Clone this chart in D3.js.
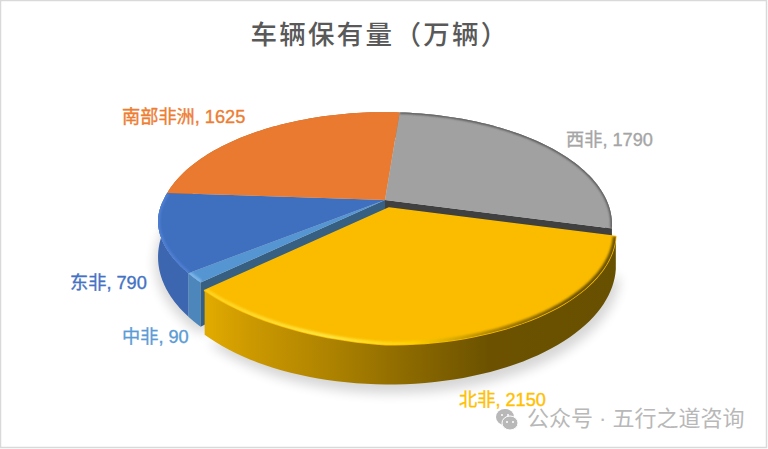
<!DOCTYPE html>
<html lang="zh">
<head>
  <meta charset="UTF-8">
  <title>车辆保有量（万辆）</title>
  <script src="https://d3js.org/d3.v7.min.js"></script>
  <style>
    html, body { margin: 0; padding: 0; background: #fff; }
    svg { display: block; }
    text { font-family: "Liberation Sans", "Noto Sans CJK SC", sans-serif; }
  </style>
</head>
<body>
  <svg id="chart" width="768" height="449"></svg>

<script>
  // data, clockwise from the exploded slice
  const regions = ["北非", "中非", "东非", "南部非洲", "西非"];
  const vehicles = [2150, 90, 790, 1625, 1790];
  const chartTitle = "车辆保有量（万辆）";

  const topColors = ["#fbbc00", "#5596d2", "#3f6fbf", "#e97a30", "#a1a1a1"];
  const wallColors = ["url(#wallYellow)", "#4c86ba", "#3c66b0", "#b85f22", "#6e6e6e"];
  const labelColors = ["#ffc000", "#5b9bd5", "#4472c4", "#ed7d31", "#a5a5a5"];
  const labelX = [459, 122, 70, 122, 566];
  const labelY = [406, 343, 289, 123, 146];

  const svg = d3.select("#chart");
  const defs = svg.append("defs");

  // pie geometry
  const cx = 385, cy = 200, rx = 221.5, ry = 107, persp = 0.218, depth = 31, tilt = 15;
  const startDeg = 104.6;
  const explode = { dx: 4, dy: 8 };

  const arcs = d3.pie().sort(null)
    .startAngle(startDeg * Math.PI / 180)
    .endAngle((startDeg + 360) * Math.PI / 180)(vehicles);

  // disc angle -> screen, with a bit of perspective so the front looks bigger
  function project(a, r, drop) {
    const u = Math.sin(a) * r, v = -Math.cos(a) * r;
    const s = 1 / (1 - persp * v);
    // front left of the top face sits a little higher in the reference, its wall does not
    const lift = drop > 0 ? 0 : tilt * Math.min(u, 0) * Math.max(v, 0);
    return [cx + rx * u * s, cy + ry * v * s + drop * s + lift];
  }

  const line = d3.line();

  function rim(a0, a1, drop) {
    return d3.range(0, 61).map(i => project(a0 + (a1 - a0) * i / 60, 1, drop));
  }

  function topPath(d) {
    return line([[cx, cy]].concat(rim(d.startAngle, d.endAngle, 0))) + "Z";
  }

  function wallPath(d) {
    return line(rim(d.startAngle, d.endAngle, 0).concat(rim(d.startAngle, d.endAngle, depth).reverse())) + "Z";
  }

  function cutPath(a) {
    const t = project(a, 1, 0), b = project(a, 1, depth);
    return line([[cx, cy], t, b, [cx, cy + depth]]) + "Z";
  }

  // gradients and filters
  const xLeft = project(arcs[0].endAngle, 1, 0)[0];
  const xRight = project(arcs[0].startAngle, 1, 0)[0];

  function hGrad(id, stops) {
    const g = defs.append("linearGradient").attr("id", id)
      .attr("gradientUnits", "userSpaceOnUse")
      .attr("x1", xLeft + explode.dx).attr("x2", xRight + explode.dx)
      .attr("y1", 0).attr("y2", 0);
    stops.forEach(s => g.append("stop").attr("offset", s[0]).attr("stop-color", s[1]));
  }
  hGrad("wallYellow", [[0, "#e0aa00"], [0.1, "#cc9900"], [0.3, "#ad8200"], [0.5, "#8a6800"], [0.68, "#6c5200"], [1, "#675000"]]);
  hGrad("edgeYellow", [[0, "#ffd21f"], [0.3, "#ffe640"], [0.5, "#ffd000"], [0.7, "#a98000"], [0.88, "#6c5200"], [1, "#6c5200"]]);

  defs.append("filter").attr("id", "shadowBlur")
    .attr("x", "-10%").attr("y", "-20%").attr("width", "120%").attr("height", "140%")
    .append("feGaussianBlur").attr("stdDeviation", 6);
  defs.append("filter").attr("id", "edgeBlur")
    .attr("x", "-5%").attr("y", "-5%").attr("width", "110%").attr("height", "110%")
    .append("feGaussianBlur").attr("stdDeviation", 1.3);

  arcs.forEach((d, i) => {
    defs.append("clipPath").attr("id", "clipTop" + i)
      .append("path").attr("d", topPath(d));
  });

  // frame
  svg.append("rect")
    .attr("x", 0.5).attr("y", 0.5).attr("width", 766).attr("height", 447)
    .attr("fill", "#fff").attr("stroke", "#d9d9d9").attr("stroke-width", 1.5);

  // title
  svg.append("text")
    .attr("x", 380).attr("y", 44)
    .attr("text-anchor", "middle")
    .attr("font-size", 26.5).attr("font-weight", 500)
    .attr("letter-spacing", 2.3)
    .attr("fill", "#595959")
    .text(chartTitle);

  // soft shadow under the pie
  const shadow = svg.append("g").attr("filter", "url(#shadowBlur)").attr("fill", "#000").attr("opacity", 0.16);
  shadow.append("path")
    .attr("d", line(rim(arcs[1].startAngle, arcs[4].endAngle, depth + 5)) + "Z")
    .attr("transform", "translate(-3,0)");
  shadow.append("path")
    .attr("d", line(rim(arcs[0].startAngle, arcs[0].endAngle, depth + 7)) + "Z")
    .attr("transform", `translate(${explode.dx + 4},${explode.dy})`);

  // slices that stay in place
  const rest = svg.append("g");
  arcs.slice(1).forEach((d, k) => {
    rest.append("path").attr("d", wallPath(d)).attr("fill", wallColors[k + 1]);
  });
  // faces exposed by pulling the big slice out
  rest.append("path").attr("d", cutPath(arcs[0].startAngle)).attr("fill", "#404040");
  rest.append("path").attr("d", cutPath(arcs[0].endAngle)).attr("fill", "#365f82");

  const edgeColors = ["url(#edgeYellow)", "#7db6ea", "#4f80d4", "#e97a30", "#4d4d4d"];
  const edgeWidths = [6, 5, 4, 1, 2.5];

  function drawTop(g, d, i) {
    g.append("path").attr("d", topPath(d)).attr("fill", topColors[i]);
    g.append("g").attr("clip-path", `url(#clipTop${i})`)
      .append("path")
      .attr("d", line(rim(d.startAngle, d.endAngle, 0)))
      .attr("fill", "none")
      .attr("stroke", edgeColors[i])
      .attr("stroke-width", edgeWidths[i])
      .attr("filter", "url(#edgeBlur)");
  }
  arcs.slice(1).forEach((d, k) => drawTop(rest, d, k + 1));

  // exploded slice
  const big = svg.append("g").attr("transform", `translate(${explode.dx},${explode.dy})`);
  big.append("path").attr("d", wallPath(arcs[0])).attr("fill", wallColors[0]);
  big.append("path").attr("d", topPath(arcs[0]))
    .attr("fill", topColors[0]).attr("stroke", topColors[0])
    .attr("stroke-width", 1.5).attr("stroke-linejoin", "round");
  big.append("g").attr("clip-path", "url(#clipTop0)")
    .append("path")
    .attr("d", line(rim(arcs[0].startAngle, arcs[0].endAngle, 0)))
    .attr("fill", "none")
    .attr("stroke", edgeColors[0])
    .attr("stroke-width", edgeWidths[0])
    .attr("filter", "url(#edgeBlur)");

  // data labels
  svg.append("g").selectAll("text")
    .data(regions)
    .join("text")
    .attr("x", (d, i) => labelX[i])
    .attr("y", (d, i) => labelY[i])
    .attr("font-size", 18.2)
    .attr("fill", (d, i) => labelColors[i])
    .attr("stroke", (d, i) => labelColors[i])
    .attr("stroke-width", 0.35)
    .text((d, i) => `${d}, ${vehicles[i]}`);

  // watermark
  const mark = svg.append("g").attr("fill", "#b8b8b8");
  mark.append("ellipse").attr("cx", 505).attr("cy", 417).attr("rx", 9).attr("ry", 8);
  mark.append("ellipse").attr("cx", 510).attr("cy", 423).attr("rx", 8).attr("ry", 7)
    .attr("stroke", "#fff").attr("stroke-width", 1);
  [[502, 415], [508, 415], [507, 422], [513, 422]].forEach(p => {
    mark.append("circle").attr("cx", p[0]).attr("cy", p[1]).attr("r", 1).attr("fill", "#fff");
  });
  svg.append("text")
    .attr("x", 527).attr("y", 426)
    .attr("font-size", 22)
    .attr("fill", "#b8b8b8")
    .text("公众号 · 五行之道咨询");
</script>
</body>
</html>
